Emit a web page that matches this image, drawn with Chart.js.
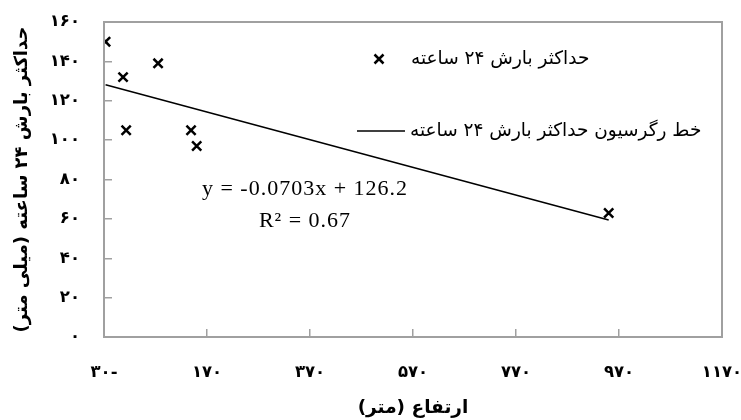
<!DOCTYPE html>
<html><head><meta charset="utf-8">
<script src="https://cdn.jsdelivr.net/npm/chart.js@4.4.0/dist/chart.umd.min.js"></script>
<style>html,body{margin:0;padding:0;background:#fff}#wrap{width:741px;height:420px}</style>
</head>
<body><div id="wrap"><canvas id="c" width="741" height="420"></canvas></div>
<script>
const elevation = [-27, 7, 13, 75, 139, 150, 950];
const maxRain24h = [150, 132, 105, 139, 105, 97, 63];
const trendX = [-27, 950];
const trendY = [128.1, 59.4];
const xTickValues = [-30, 170, 370, 570, 770, 970, 1170];
const xTickLabels = ['\u200F-۳۰', '۱۷۰', '۳۷۰', '۵۷۰', '۷۷۰', '۹۷۰', '۱۱۷۰'];
const yTickValues = [0, 20, 40, 60, 80, 100, 120, 140, 160];
const yTickLabels = ['۰', '۲۰', '۴۰', '۶۰', '۸۰', '۱۰۰', '۱۲۰', '۱۴۰', '۱۶۰'];
const seriesNames = ['حداکثر بارش ۲۴ ساعته', 'خط رگرسیون حداکثر بارش ۲۴ ساعته'];
const xTitle = 'ارتفاع (متر)';
const yTitle = 'حداکثر بارش ۲۴ ساعته (میلی متر)';
const eqLines = ['y = -0.0703x + 126.2', 'R² = 0.67'];

const FA = "'DejaVu Sans', sans-serif";
const AXIS = '#a0a0a0';

const overlay = {
  id: 'overlay',
  afterDraw(chart) {
    const ctx = chart.ctx, a = chart.chartArea;
    ctx.save();
    ctx.strokeStyle = AXIS; ctx.lineWidth = 2;
    ctx.strokeRect(a.left, a.top, a.right - a.left, a.bottom - a.top);
    // legend
    ctx.fillStyle = '#000'; ctx.strokeStyle = '#000';
    ctx.font = "18.5px " + FA; ctx.textBaseline = 'middle';
    ctx.direction = 'rtl'; ctx.textAlign = 'right';
    const lx = 379, ly1 = 59, ly2 = 131;
    ctx.lineWidth = 2.5;
    ctx.beginPath();
    ctx.moveTo(lx - 4.5, ly1 - 4.5); ctx.lineTo(lx + 4.5, ly1 + 4.5);
    ctx.moveTo(lx + 4.5, ly1 - 4.5); ctx.lineTo(lx - 4.5, ly1 + 4.5);
    ctx.stroke();
    const w1 = ctx.measureText(seriesNames[0]).width;
    ctx.fillText(seriesNames[0], 411 + w1, ly1);
    ctx.lineWidth = 1.5;
    ctx.beginPath(); ctx.moveTo(357, ly2); ctx.lineTo(405, ly2); ctx.stroke();
    const w2 = ctx.measureText(seriesNames[1]).width;
    ctx.fillText(seriesNames[1], 410 + w2, ly2);
    // equation
    ctx.direction = 'ltr'; ctx.textAlign = 'center';
    ctx.font = "22px 'Liberation Serif', serif";
    ctx.letterSpacing = '1px';
    ctx.fillText(eqLines[0], 305, 189);
    ctx.fillText(eqLines[1], 305, 221);
    ctx.restore();
  }
};

new Chart(document.getElementById('c'), {
  type: 'scatter',
  data: {
    datasets: [
      {
        label: seriesNames[0],
        data: elevation.map((x, i) => ({x, y: maxRain24h[i]})),
        pointStyle: 'crossRot', radius: 6.5, borderWidth: 2.5,
        borderColor: '#000', backgroundColor: '#000'
      },
      {
        type: 'line',
        label: seriesNames[1],
        data: trendX.map((x, i) => ({x, y: trendY[i]})),
        borderColor: '#000', borderWidth: 1.5, pointRadius: 0, fill: false
      }
    ]
  },
  options: {
    responsive: false, animation: false, devicePixelRatio: 1,
    layout: {padding: {top: 22, right: 19, left: 0, bottom: 0}},
    plugins: {legend: {display: false}, tooltip: {enabled: false}},
    scales: {
      x: {
        type: 'linear', min: -30, max: 1170,
        afterBuildTicks: s => { s.ticks = xTickValues.map(v => ({value: v})); },
        afterFit: s => { s.height = 83; s.paddingLeft = 0; s.paddingRight = 0; },
        ticks: {
          callback: v => xTickLabels[xTickValues.indexOf(v)],
          font: {family: FA, size: 16.5, weight: 'bold'}, color: '#000',
          padding: 34, maxRotation: 0, autoSkip: false
        },
        grid: {drawOnChartArea: false, color: AXIS, tickLength: -8, lineWidth: 1.5},
        border: {color: AXIS, width: 2},
        title: {display: true, text: xTitle + '\u200F', font: {family: FA, size: 18.5, weight: 'bold'}, color: '#000', padding: {top: 0, bottom: 1}}
      },
      y: {
        type: 'linear', min: 0, max: 160,
        afterBuildTicks: s => { s.ticks = yTickValues.map(v => ({value: v})); },
        afterFit: s => { s.width = 104; s.paddingTop = 0; s.paddingBottom = 0; },
        ticks: {
          callback: v => yTickLabels[yTickValues.indexOf(v)],
          font: {family: FA, size: 16.5, weight: 'bold'}, color: '#000',
          padding: 32
        },
        grid: {drawOnChartArea: false, color: AXIS, tickLength: -8, lineWidth: 1.5},
        border: {color: AXIS, width: 2},
        title: {display: true, text: yTitle + '\u200F', font: {family: FA, size: 18, weight: 'bold'}, color: '#000', padding: {top: 12, bottom: 4}}
      }
    }
  },
  plugins: [overlay]
});
</script>
</body></html>
